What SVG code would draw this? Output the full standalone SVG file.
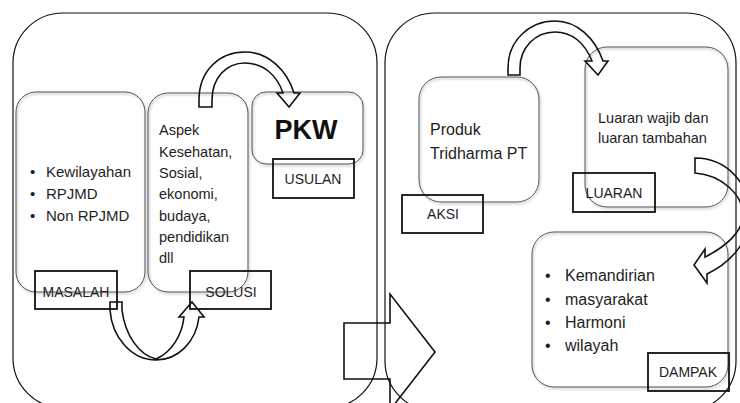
<svg xmlns="http://www.w3.org/2000/svg" width="740" height="403" viewBox="0 0 740 403">
<defs>
<filter id="sh" x="-10%" y="-10%" width="120%" height="120%">
<feDropShadow dx="1" dy="1.5" stdDeviation="1" flood-color="#000" flood-opacity="0.35"/>
</filter>
</defs>
<style>
.panel{fill:none;stroke:#111;stroke-width:1.2}
.box{fill:none;stroke:#555;stroke-width:1}
.lbl{fill:none;stroke:#111;stroke-width:1.8}
.arr{fill:none;stroke:#111;stroke-width:1.6;stroke-linejoin:miter}
text{font-family:"Liberation Sans",Arial,sans-serif;fill:#1e1e1e}
.t14{font-size:14px}
.t145{font-size:14.5px}
.t15{font-size:15px}
.t16{font-size:16px}
.mid{text-anchor:middle}
</style>
<rect width="740" height="403" fill="#fff"/>

<g id="panel-left"><rect class="panel" x="13" y="13" width="364" height="395" rx="50" ry="50"/></g>
<g id="panel-right"><rect class="panel" x="385" y="13" width="351" height="398" rx="50" ry="50"/></g>

<g id="masalah">
<rect class="box" filter="url(#sh)" x="16" y="92" width="129" height="200" rx="20"/>
<text class="t15" x="30" y="177">•</text><text class="t15" x="46" y="177">Kewilayahan</text>
<text class="t15" x="30" y="199">•</text><text class="t15" x="46" y="199">RPJMD</text>
<text class="t15" x="30" y="221">•</text><text class="t15" x="46" y="221">Non RPJMD</text>
<rect class="lbl" x="35" y="271" width="82" height="38"/>
<text class="t14 mid" x="76" y="297">MASALAH</text>
</g>

<g id="solusi">
<rect class="box" filter="url(#sh)" x="148" y="93" width="100" height="199" rx="20"/>
<text class="t145" x="159" y="135">Aspek</text>
<text class="t145" x="159" y="157">Kesehatan,</text>
<text class="t145" x="159" y="178">Sosial,</text>
<text class="t145" x="159" y="199">ekonomi,</text>
<text class="t145" x="159" y="221">budaya,</text>
<text class="t145" x="159" y="242">pendidikan</text>
<text class="t145" x="159" y="263">dll</text>
<rect class="lbl" x="190" y="271" width="81" height="38"/>
<text class="t14 mid" x="231" y="297">SOLUSI</text>
</g>

<g id="usulan">
<rect class="box" filter="url(#sh)" x="252" y="92" width="111" height="72" rx="14"/>
<text x="306" y="139" class="mid" style="font-size:27px;font-weight:bold;fill:#111">PKW</text>
<rect class="lbl" x="273" y="159" width="81" height="39"/>
<text class="t14 mid" x="313" y="184">USULAN</text>
</g>

<g id="aksi">
<rect class="box" filter="url(#sh)" x="419" y="77" width="120" height="125" rx="22"/>
<text class="t16" x="430" y="135">Produk</text>
<text class="t16" x="430" y="159">Tridharma PT</text>
<rect class="lbl" x="402" y="195" width="81" height="38"/>
<text class="t14 mid" x="443" y="219">AKSI</text>
</g>

<g id="luaran">
<rect class="box" filter="url(#sh)" x="585" y="47" width="143" height="160" rx="22"/>
<text class="t145" x="598" y="123">Luaran wajib dan</text>
<text class="t145" x="598" y="143">luaran tambahan</text>
<rect class="lbl" x="573" y="173" width="82" height="39"/>
<text class="t14 mid" x="614" y="198">LUARAN</text>
</g>

<g id="dampak">
<rect class="box" filter="url(#sh)" x="532" y="232" width="196" height="155" rx="22"/>
<text class="t16" x="545" y="281">•</text><text class="t16" x="565" y="281">Kemandirian</text>
<text class="t16" x="545" y="305">•</text><text class="t16" x="565" y="305">masyarakat</text>
<text class="t16" x="545" y="328">•</text><text class="t16" x="565" y="328">Harmoni</text>
<text class="t16" x="545" y="351">•</text><text class="t16" x="565" y="351">wilayah</text>
<rect class="lbl" x="648" y="353" width="81" height="38"/>
<text class="t14 mid" x="688" y="377">DAMPAK</text>
</g>

<g id="connectors">
<path class="arr" d="M110,302 L122,302 L122,310 C125,335 139,355 156,359 C172,352 182,335 184,317 L179,317 L192,302 L204,317 L199,317 C196,342 178,360 156,360 C132,360 112,338 110,310 Z"/>
<path class="arr" d="M199,107 L199,100 C199,70 220,52 245,52 C268,52 287,70 294,93 L300,93 L289,107 L277,93 L283,93 C277,75 263,63 245,63 C226,63 212,78 212,100 L212,107 Z"/>
<path class="arr" d="M344,323 L390,323 L390,294 L435,352 L390,410 L390,379 L344,379 Z"/>
<path class="arr" d="M508,75 L508,68 C508,40 530,21 555,21 C577,21 595,38 603,61 L608,61 L598,75 L585,61 L592,61 C585,43 572,32 555,32 C535,32 520,48 520,68 L520,75 Z"/>
<path class="arr" d="M695,158 C728,158 750,185 750,215 C750,240 732,262 707,274 L707,283 L694,265 L705,249 L705,257 C725,247 743,232 743,215 C743,195 722,175 695,173 Z"/>
</g>
</svg>
